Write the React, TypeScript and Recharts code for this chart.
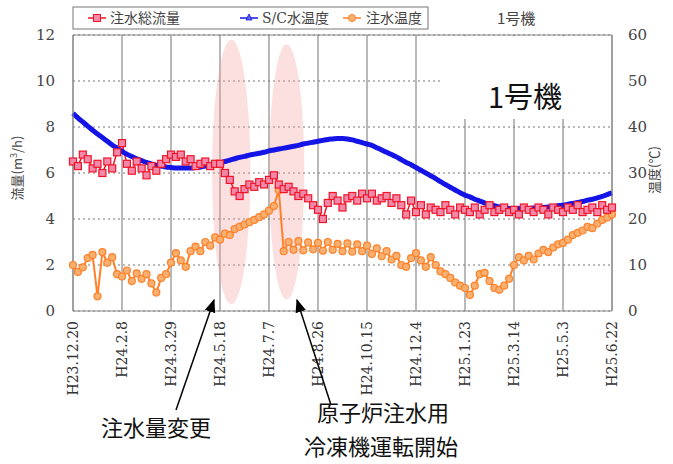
import { ComposedChart, Line, XAxis, YAxis, CartesianGrid, ReferenceArea, ReferenceLine } from "recharts";

// days since H23.12.20, every 5 days
const days = Array.from({ length: 111 }, (_, i) => i * 5);

const tickDays = [0, 50, 100, 150, 200, 250, 300, 350, 400, 450, 500, 550];
const tickLabels = [
  "H23.12.20", "H24.2.8", "H24.3.29", "H24.5.18", "H24.7.7", "H24.8.26",
  "H24.10.15", "H24.12.4", "H25.1.23", "H25.3.14", "H25.5.3", "H25.6.22",
];

// 注水総流量 (m3/h)
const flow = [
  6.5, 6.3, 6.8, 6.6, 6.2, 6.4, 6.0, 6.5, 6.2, 6.9,
  7.3, 6.4, 6.1, 6.5, 6.2, 5.9, 6.3, 6.1, 6.4, 6.6,
  6.8, 6.7, 6.8, 6.5, 6.6, 6.3, 6.4, 6.5, 6.3, 6.4,
  6.4, 6.0, 5.7, 5.2, 5.0, 5.3, 5.5, 5.4, 5.6, 5.5,
  5.7, 5.9, 5.5, 5.3, 5.4, 5.2, 5.0, 5.1, 4.9, 4.6,
  4.4, 4.0, 4.7, 5.0, 4.8, 4.5, 4.9, 5.0, 4.8, 5.1,
  4.9, 5.1, 4.8, 4.9, 5.0, 4.7, 4.9, 4.6, 4.2, 4.8,
  4.3, 4.6, 4.2, 4.5, 4.4, 4.3, 4.6, 4.4, 4.2, 4.5,
  4.4, 4.3, 4.5, 4.2, 4.4, 4.6, 4.3, 4.4, 4.5, 4.3,
  4.4, 4.2, 4.5, 4.4, 4.3, 4.5, 4.4, 4.2, 4.5, 4.4,
  4.3, 4.5, 4.4, 4.6, 4.3, 4.4, 4.5, 4.3, 4.6, 4.4,
  4.5,
];

// S/C水温度 (℃)
const scTemp = [
  43.0, 42.0, 41.1, 40.2, 39.3, 38.5, 37.7, 36.9, 36.1, 35.4,
  34.7, 34.1, 33.6, 33.1, 32.7, 32.3, 32.0, 31.7, 31.5, 31.3,
  31.2, 31.1, 31.1, 31.1, 31.1, 31.2, 31.3, 31.5, 31.7, 31.9,
  32.2, 32.5, 32.8, 33.1, 33.4, 33.6, 33.9, 34.1, 34.3, 34.5,
  34.8, 35.0, 35.2, 35.4, 35.6, 35.8, 36.0, 36.3, 36.5, 36.7,
  36.9, 37.1, 37.3, 37.4, 37.5, 37.5, 37.4, 37.2, 36.9, 36.6,
  36.3, 36.0, 35.5, 35.0, 34.5, 34.0, 33.5, 32.9, 32.3, 31.8,
  31.2, 30.6, 30.0, 29.4, 28.8, 28.1, 27.5, 26.9, 26.3, 25.7,
  25.2, 24.8, 24.3, 23.9, 23.5, 23.2, 22.9, 22.6, 22.4, 22.3,
  22.3, 22.3, 22.3, 22.3, 22.4, 22.4, 22.5, 22.6, 22.7, 22.9,
  23.0, 23.2, 23.4, 23.6, 23.8, 24.1, 24.3, 24.6, 24.9, 25.3,
  25.7,
];

// 注水温度 (℃)
const injTemp = [
  10.0, 8.5, 9.5, 11.5, 12.2, 3.2, 12.8, 10.5, 11.7, 8.0,
  7.5, 8.8, 6.5, 8.2, 7.0, 8.0, 6.0, 4.0, 7.2, 8.0,
  10.5, 12.6, 11.0, 9.6, 13.0, 14.0, 13.0, 15.0, 14.2, 16.0,
  15.5, 16.8, 16.5, 17.8, 18.3, 18.8, 19.3, 19.8, 20.4, 21.0,
  21.8, 22.8, 26.3, 13.0, 15.0, 13.3, 15.2, 13.2, 14.9, 13.4,
  14.8, 13.1, 15.0, 13.3, 14.6, 13.0, 14.7, 12.9, 14.5, 13.0,
  14.2, 12.4, 13.6, 11.9, 13.0, 11.2, 12.0, 10.0, 9.6, 11.5,
  12.6, 11.0, 9.6, 11.7, 10.0, 8.6, 8.0, 7.2, 6.2, 5.5,
  5.0, 3.5, 5.5, 8.0, 8.3, 6.5, 5.0, 4.6, 5.5, 7.0,
  10.0, 11.7, 11.0, 12.0, 11.2, 12.5, 13.3, 12.8, 13.8, 14.5,
  14.8, 15.5, 16.5, 17.0, 17.5, 18.3, 18.0, 19.0, 19.8, 20.3,
  21.0,
];

const data = days.map((d, i) => ({ day: d, flow: flow[i], sc: scTemp[i], inj: injTemp[i] }));

const serif = "'DejaVu Serif', 'Liberation Serif', serif";
const jp = "'Noto Sans CJK JP', 'Noto Sans', sans-serif";

const XTick = (props: any) => {
  const { x, y, payload } = props;
  const idx = tickDays.indexOf(payload.value);
  return (
    <g transform={`translate(${x},${y})`}>
      <text transform="rotate(-90)" x={-2} dy="0.35em" textAnchor="end" fontFamily={serif} fontSize={14} fill="#333">
        {tickLabels[idx]}
      </text>
    </g>
  );
};

const YTick = (props: any) => {
  const { x, y, payload, textAnchor } = props;
  return (
    <text x={x} y={y} dy="0.35em" textAnchor={textAnchor} fontFamily={serif} fontSize={15} fill="#444">
      {payload.value}
    </text>
  );
};

const SquareDot = (props: any) => {
  const { cx, cy, index } = props;
  if (cx == null || cy == null) return <g key={index} />;
  return <rect key={index} x={cx - 3.5} y={cy - 3.5} width={7} height={7} fill="#f388a8" stroke="#f01428" strokeWidth={1.2} />;
};

const CircleDot = (props: any) => {
  const { cx, cy, index } = props;
  if (cx == null || cy == null) return <g key={index} />;
  return <circle key={index} cx={cx} cy={cy} r={3.5} fill="#f8b070" stroke="#ff8028" strokeWidth={1.2} />;
};

const Ellipse = (props: any) => {
  const { x, y, width, height } = props;
  return <ellipse cx={x + width / 2} cy={y + height / 2} rx={width / 2} ry={height / 2} fill="#f59a9a" fillOpacity={0.32} />;
};

export default function App() {
  return (
    <div style={{ position: "absolute", left: 0, top: 0, width: 673, height: 464, background: "#fff" }}>
      <ComposedChart width={673} height={464} data={data} margin={{ top: 35, right: 16, bottom: 58, left: 28 }}>
        <CartesianGrid yAxisId="l" horizontal={false} stroke="#8a8a8a" strokeWidth={1.2} />
        <CartesianGrid yAxisId="l" vertical={false} stroke="#777" strokeDasharray="2 3" />
        <XAxis
          dataKey="day"
          type="number"
          domain={[0, 550]}
          ticks={tickDays}
          tick={<XTick />}
          tickLine={false}
          axisLine={{ stroke: "#888" }}
          height={95}
          interval={0}
        />
        <YAxis
          yAxisId="l"
          domain={[0, 12]}
          ticks={[0, 2, 4, 6, 8, 10, 12]}
          width={45}
          tickLine={false}
          axisLine={{ stroke: "#888" }}
          tick={<YTick />}
          tickMargin={12}
        />
        <YAxis
          yAxisId="r"
          orientation="right"
          domain={[0, 60]}
          ticks={[0, 10, 20, 30, 40, 50, 60]}
          width={45}
          tickLine={false}
          axisLine={{ stroke: "#888" }}
          tick={<YTick />}
          tickMargin={10}
        />
        <ReferenceLine yAxisId="l" y={12} stroke="#888" />
        <ReferenceArea yAxisId="l" x1={375} x2={549} y1={8.35} y2={11.95} fill="#fff" fillOpacity={1} stroke="none" />
        <ReferenceArea yAxisId="l" x1={142} x2={181} y1={0.3} y2={11.8} shape={<Ellipse />} />
        <ReferenceArea yAxisId="l" x1={200} x2={236} y1={0.5} y2={11.6} shape={<Ellipse />} />
        <Line yAxisId="r" dataKey="inj" stroke="#ff8028" strokeWidth={2} dot={CircleDot} isAnimationActive={false} />
        <Line yAxisId="l" dataKey="flow" stroke="#f01428" strokeWidth={1.5} dot={SquareDot} isAnimationActive={false} />
        <Line yAxisId="r" dataKey="sc" type="monotone" stroke="#1414e6" strokeWidth={5} dot={false} isAnimationActive={false} />
      </ComposedChart>

      <svg width={673} height={464} style={{ position: "absolute", left: 0, top: 0, pointerEvents: "none" }}>
        <defs>
          <marker id="ah" viewBox="0 0 10 10" refX="9" refY="5" markerWidth="9" markerHeight="9" orient="auto">
            <path d="M0,1 L10,5 L0,9 z" fill="#000" />
          </marker>
        </defs>
        {/* legend */}
        <rect x={73} y={7} width={355} height={22} fill="#fff" stroke="#777" />
        <line x1={88} x2={106} y1={18} y2={18} stroke="#f01428" strokeWidth={1.5} />
        <rect x={93.5} y={14.5} width={7} height={7} fill="#f388a8" stroke="#f01428" />
        <text x={110} y={23} fontFamily={jp} fontSize={14} fill="#444">注水総流量</text>
        <line x1={240} x2={258} y1={18} y2={18} stroke="#1414e6" strokeWidth={1.5} />
        <polygon points="249,14 252,20 246,20" fill="#6060f0" stroke="#1414e6" strokeWidth={0.8} />
        <text x={262} y={23} fontFamily={serif} fontSize={14} fill="#444">S/C<tspan fontFamily={jp}>水温度</tspan></text>
        <line x1={343} x2={361} y1={18} y2={18} stroke="#ff8028" strokeWidth={1.5} />
        <circle cx={352} cy={18} r={3.5} fill="#f8b070" stroke="#ff8028" />
        <text x={366} y={23} fontFamily={jp} fontSize={14} fill="#444">注水温度</text>
        <text x={497} y={24} fontFamily={jp} fontSize={15} fill="#444">1号機</text>

        {/* axis titles */}
        <text transform="translate(22,168) rotate(-90)" textAnchor="middle" fontFamily={jp} fontSize={13} fill="#444">
          流量(m<tspan dy={-5} fontSize={9}>3</tspan><tspan dy={5}>/h)</tspan>
        </text>
        <text transform="translate(659,170) rotate(-90)" textAnchor="middle" fontFamily={jp} fontSize={13} fill="#444">
          温度(℃)
        </text>

        <text x={525} y={108} textAnchor="middle" fontFamily={jp} fontSize={29} fill="#111">1号機</text>

        {/* annotations */}
        <line x1={176} y1={410} x2={214} y2={300} stroke="#000" strokeWidth={1.5} markerEnd="url(#ah)" />
        <line x1={331} y1={405} x2={297} y2={300} stroke="#000" strokeWidth={1.5} markerEnd="url(#ah)" />
        <text x={156} y={436} textAnchor="middle" fontFamily={jp} fontSize={22} fill="#111">注水量変更</text>
        <text x={383} y={421} textAnchor="middle" fontFamily={jp} fontSize={22} fill="#111">原子炉注水用</text>
        <text x={381} y={455} textAnchor="middle" fontFamily={jp} fontSize={22} fill="#111">冷凍機運転開始</text>
      </svg>
    </div>
  );
}
